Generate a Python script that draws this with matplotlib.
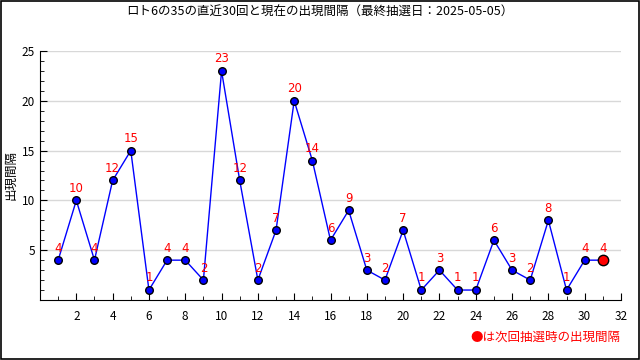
import matplotlib
matplotlib.use('Agg')
import matplotlib.pyplot as plt
from matplotlib.ticker import MultipleLocator

plt.rcParams['font.family'] = ['Noto Sans CJK JP', 'DejaVu Sans']

# data
kai = list(range(1, 32))
kankaku = [4, 10, 4, 12, 15, 1, 4, 4, 2, 23, 12, 2, 7, 20, 14, 6, 9, 3, 2, 7,
           1, 3, 1, 1, 6, 3, 2, 8, 1, 4, 4]
xlabels = list(range(2, 33, 2))
title = 'ロト6の35の直近30回と現在の出現間隔（最終抽選日：2025-05-05）'

fig = plt.figure(figsize=(6.4, 3.6), dpi=100)
ax = fig.add_axes([40/640, 60/360, 581/640, 249/360])

# frame round the whole picture
fig.patches.append(plt.Rectangle((0.001, 0.002), 0.997, 0.995, transform=fig.transFigure,
                                 fill=False, edgecolor='black', linewidth=1.2))

ax.plot(kai, kankaku, color='blue', linewidth=1, zorder=2)
ax.scatter(kai[:-1], kankaku[:-1], s=30, color='blue', edgecolor='black', linewidth=1, zorder=3)
ax.scatter(kai[-1:], kankaku[-1:], s=56, color='red', edgecolor='black', linewidth=1, zorder=3)
for x, y in zip(kai, kankaku):
    ax.annotate(str(y), (x, y), xytext=(0, 4), textcoords='offset points',
                ha='center', va='bottom', color='red', fontsize=8.5, family='DejaVu Sans')

ax.set_xlim(0, 32)
ax.set_ylim(0, 25)
ax.set_xticks(xlabels)
ax.xaxis.set_minor_locator(MultipleLocator(1))
ax.yaxis.set_minor_locator(MultipleLocator(1))
ax.set_yticks([5, 10, 15, 20, 25])
ax.tick_params(which='both', direction='in', labelsize=8.5)
ax.tick_params(which='major', length=5)
ax.tick_params(which='minor', length=3)
ax.tick_params(axis='x', pad=7)
ax.grid(axis='y', color='#d8d8d8', linewidth=1)
ax.set_axisbelow(True)
for s in ['top', 'right']:
    ax.spines[s].set_visible(False)

ax.set_ylabel('出現間隔', fontsize=9)
ax.yaxis.set_label_coords(-23/581, 0.5)
fig.text(0.5, 1 - 12/360, title, ha='center', va='center', fontsize=9)
fig.text(620/640, 1 - 337/360, '●は次回抽選時の出現間隔', ha='right', va='center',
         color='red', fontsize=9)

fig.savefig('out.png', dpi=100)
